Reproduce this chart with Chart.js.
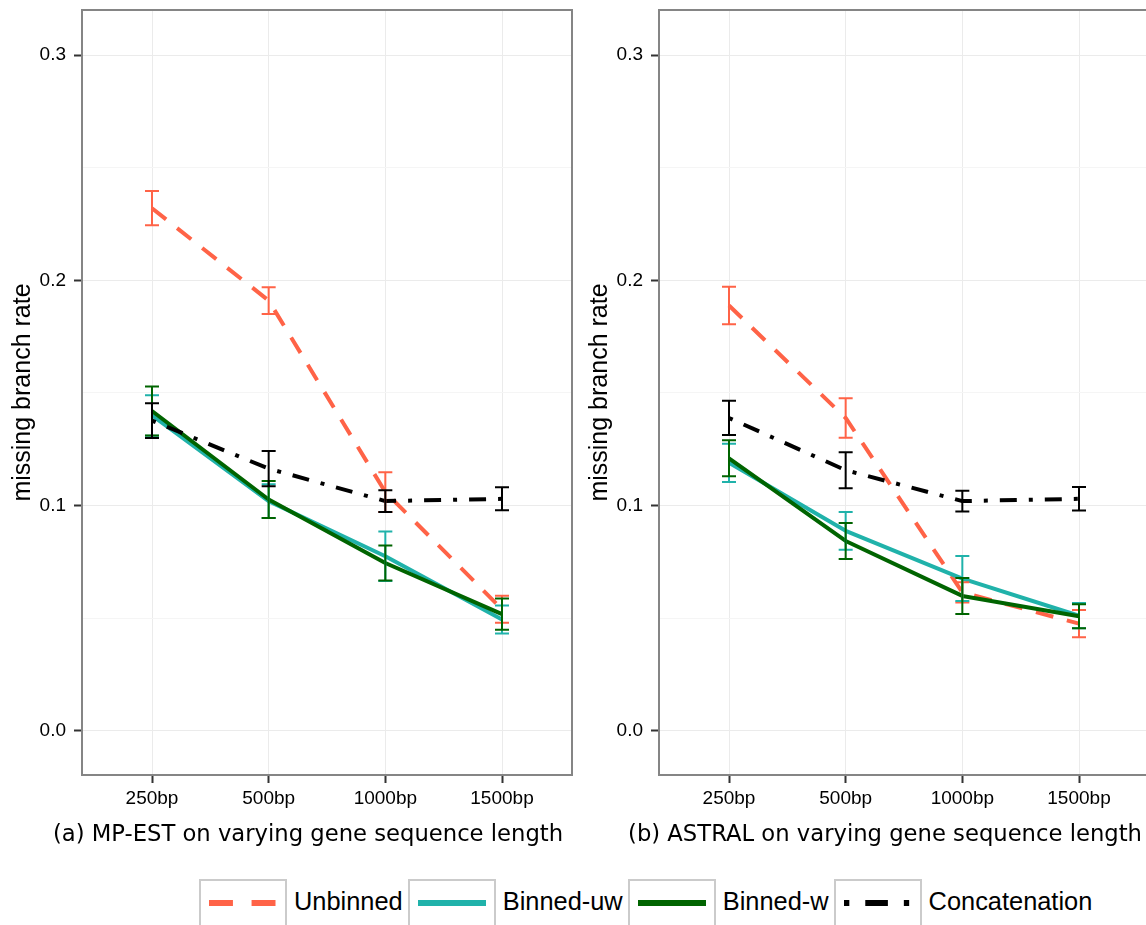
<!DOCTYPE html>
<html>
<head>
<meta charset="utf-8">
<script src="https://cdn.jsdelivr.net/npm/chart.js@4.4.0/dist/chart.umd.min.js"></script>
<style>
  body { margin: 0; background: #fff; width: 1146px; height: 925px; overflow: hidden; position: relative; }
  .panel { position: absolute; top: 0; }
  .cap { position: absolute; top: 820px; font-family: "DejaVu Sans"; font-size: 22.7px; line-height: 26px; color: #000; white-space: nowrap; transform: translateX(-50%); }
  #legend { position: absolute; left: 199px; top: 879px; display: flex; align-items: flex-start; }
  .key { width: 84px; height: 60px; border: 2px solid #cbcbcb; }
  .key canvas { display: block; }
  .lab { font-family: "Liberation Sans", Arial, sans-serif; font-size: 25.4px; margin: 8px 5px 0 7px; color: #000; }
</style>
</head>
<body>
<canvas id="chartA" class="panel" width="600" height="860" style="left:0px"></canvas>
<canvas id="chartB" class="panel" width="600" height="860" style="left:577px"></canvas>
<div class="cap" style="left:308px">(a) MP-EST on varying gene sequence length</div>
<div class="cap" style="left:885px">(b) ASTRAL on varying gene sequence length</div>
<div id="legend"></div>

<script>
// categories and axis ticks
const categories = ['250bp', '500bp', '1000bp', '1500bp'];
const yTicks = [0, 0.1, 0.2, 0.3];
const yMinorTicks = [0.05, 0.15, 0.25];

const seriesNames = ['Unbinned', 'Binned-uw', 'Binned-w', 'Concatenation'];
const seriesColors = ['#ff6347', '#20b2aa', '#006400', '#000000'];
const seriesDashes = [[18, 14], [], [], [4, 12, 17, 12]];

// (a) MP-EST: mean missing branch rate and error half-widths
const mpestUnbinned = [0.232, 0.191, 0.106, 0.054];
const mpestUnbinnedErr = [0.0076, 0.0059, 0.0088, 0.006];
const mpestBinnedUw = [0.140, 0.102, 0.0775, 0.0494];
const mpestBinnedUwErr = [0.009, 0.0075, 0.011, 0.0062];
const mpestBinnedW = [0.142, 0.1027, 0.0745, 0.0518];
const mpestBinnedWErr = [0.0109, 0.0082, 0.0078, 0.0069];
const mpestConcat = [0.1377, 0.1164, 0.102, 0.103];
const mpestConcatErr = [0.0077, 0.0078, 0.0048, 0.0051];

// (b) ASTRAL
const astralUnbinned = [0.1888, 0.1389, 0.0615, 0.0476];
const astralUnbinnedErr = [0.0083, 0.0088, 0.0045, 0.006];
const astralBinnedUw = [0.119, 0.0888, 0.0676, 0.0511];
const astralBinnedUwErr = [0.0085, 0.0084, 0.010, 0.0056];
const astralBinnedW = [0.121, 0.0843, 0.0599, 0.0509];
const astralBinnedWErr = [0.008, 0.008, 0.008, 0.0053];
const astralConcat = [0.1389, 0.1157, 0.102, 0.103];
const astralConcatErr = [0.0076, 0.008, 0.0046, 0.0052];

const errorBarPlugin = {
  id: 'errorBars',
  afterDatasetsDraw(chart) {
    const ctx = chart.ctx;
    const xs = chart.scales.x, ys = chart.scales.y;
    chart.data.datasets.forEach(ds => {
      ctx.save();
      ctx.strokeStyle = ds.borderColor;
      ctx.lineWidth = 2;
      ctx.setLineDash([]);
      ds.data.forEach((p, i) => {
        const x = xs.getPixelForValue(p.x);
        const y1 = ys.getPixelForValue(p.y - ds.errors[i]);
        const y2 = ys.getPixelForValue(p.y + ds.errors[i]);
        ctx.beginPath();
        ctx.moveTo(x, y1); ctx.lineTo(x, y2);
        ctx.moveTo(x - 7, y1); ctx.lineTo(x + 7, y1);
        ctx.moveTo(x - 7, y2); ctx.lineTo(x + 7, y2);
        ctx.stroke();
      });
      ctx.restore();
    });
  }
};

// grey panel border like theme_bw
const panelBorderPlugin = {
  id: 'panelBorder',
  afterDraw(chart) {
    const { ctx, chartArea: a } = chart;
    ctx.save();
    ctx.strokeStyle = '#858585';
    ctx.lineWidth = 2;
    ctx.strokeRect(a.left, a.top, a.right - a.left, a.bottom - a.top);
    ctx.restore();
  }
};

const isMinor = v => yMinorTicks.some(m => Math.abs(m - v) < 1e-9);

function makePanel(id, seriesValues, seriesErrors) {
  const datasets = seriesNames.map((name, s) => ({
    label: name,
    data: seriesValues[s].map((v, i) => ({ x: i, y: v })),
    errors: seriesErrors[s],
    borderColor: seriesColors[s],
    borderWidth: 4,
    borderDash: seriesDashes[s],
    borderCapStyle: 'butt',
    borderJoinStyle: 'round',
    pointRadius: 0,
    tension: 0,
    fill: false,
    order: seriesNames.length - s
  }));

  return new Chart(document.getElementById(id), {
    type: 'line',
    data: { datasets },
    plugins: [errorBarPlugin, panelBorderPlugin],
    options: {
      responsive: false,
      animation: false,
      layout: { padding: { top: 10, right: 28, left: 0, bottom: 0 } },
      plugins: { legend: { display: false }, tooltip: { enabled: false } },
      scales: {
        x: {
          type: 'linear',
          min: -0.6,
          max: 3.6,
          afterBuildTicks: sc => { sc.ticks = categories.map((c, i) => ({ value: i })); },
          afterFit: sc => { sc.height = 85; sc.paddingLeft = 0; sc.paddingRight = 0; },
          border: { display: false },
          grid: { color: '#ebebeb', lineWidth: 1, tickLength: 8, tickColor: '#333', tickWidth: 2 },
          ticks: {
            callback: v => categories[v],
            autoSkip: false,
            maxRotation: 0,
            padding: 4,
            color: '#000',
            font: { family: 'Liberation Sans', size: 19 }
          }
        },
        y: {
          min: -0.0196,
          max: 0.32,
          afterBuildTicks: sc => {
            sc.ticks = [...yTicks, ...yMinorTicks].sort((a, b) => a - b).map(v => ({ value: v }));
          },
          afterFit: sc => { sc.width = 82; sc.paddingTop = 0; sc.paddingBottom = 0; },
          border: { display: false },
          grid: {
            color: c => (c.tick && isMinor(c.tick.value)) ? '#f5f5f5' : '#ebebeb',
            lineWidth: 1,
            tickLength: 8,
            tickWidth: 2,
            tickColor: c => (c.tick && isMinor(c.tick.value)) ? 'rgba(0,0,0,0)' : '#333'
          },
          ticks: {
            callback: v => isMinor(v) ? '' : v.toFixed(1),
            padding: 8,
            color: '#000',
            font: { family: 'Liberation Sans', size: 19 }
          },
          title: {
            display: true,
            text: 'missing branch rate',
            color: '#000',
            font: { family: 'Liberation Sans', size: 25 },
            padding: { top: 8, bottom: 0 }
          }
        }
      }
    }
  });
}

makePanel('chartA',
  [mpestUnbinned, mpestBinnedUw, mpestBinnedW, mpestConcat],
  [mpestUnbinnedErr, mpestBinnedUwErr, mpestBinnedWErr, mpestConcatErr]);

makePanel('chartB',
  [astralUnbinned, astralBinnedUw, astralBinnedW, astralConcat],
  [astralUnbinnedErr, astralBinnedUwErr, astralBinnedWErr, astralConcatErr]);

// legend with boxed keys, built from the series arrays
const legendEl = document.getElementById('legend');
seriesNames.forEach((name, s) => {
  const key = document.createElement('div');
  key.className = 'key';
  const cv = document.createElement('canvas');
  cv.width = 84; cv.height = 56;
  key.appendChild(cv);
  const c = cv.getContext('2d');
  c.strokeStyle = seriesColors[s];
  c.lineWidth = 6;
  c.lineCap = 'butt';
  c.setLineDash(seriesDashes[s].map(d => d * 1.33));
  c.beginPath();
  c.moveTo(8, 22); c.lineTo(76, 22);
  c.stroke();
  const lab = document.createElement('span');
  lab.className = 'lab';
  lab.textContent = name;
  legendEl.appendChild(key);
  legendEl.appendChild(lab);
});
</script>
</body>
</html>
